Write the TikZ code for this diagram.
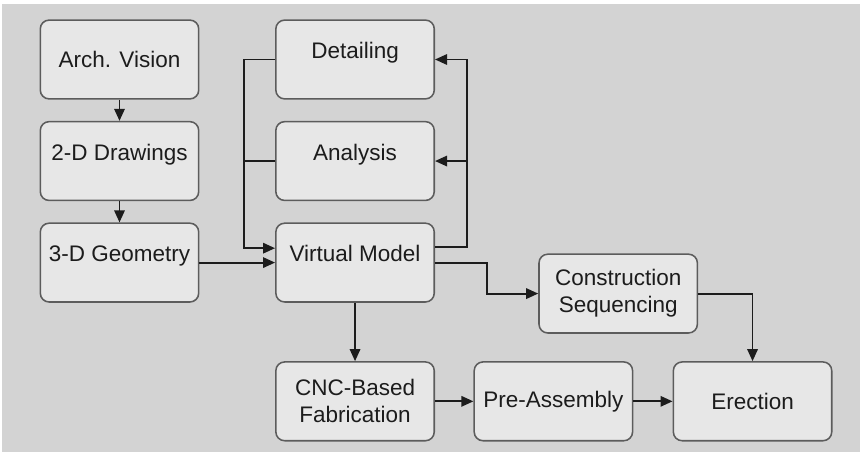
\documentclass[tikz,border=0pt]{standalone}
\usepackage{fontspec}
\setmainfont{Liberation Sans}
\usepackage{xcolor}
\usetikzlibrary{arrows.meta,positioning,calc}

\definecolor{bggray}{HTML}{D3D3D3}
\definecolor{boxfill}{HTML}{E7E7E7}
\definecolor{boxline}{HTML}{5C5C5C}
\definecolor{inkgray}{HTML}{1C1C1C}

\begin{document}
\begin{tikzpicture}[
node distance=5.3mm and 18.9mm,
box/.style={draw=boxline, line width=1.1pt, rounded corners=2.2mm, fill=boxfill, text=inkgray,
  minimum width=39.6mm, minimum height=19.7mm, align=center,
  font=\fontsize{16}{19.2}\selectfont},
upper/.style={text height=4mm, text depth=4.5mm},
arr/.style={-{Triangle[length=3mm,width=2.6mm]}, line width=1.3pt, draw=inkgray},
ln/.style={line width=1.3pt, draw=inkgray}
]
% background
\fill[white] (-2.9875,1.4875) rectangle (18.5125,-9.8125);
\fill[bggray] (-2.9375,1.3875) rectangle (18.5125,-9.8125);

\node[box] (arch) {Arch. Vision};
\node[box, upper, below=of arch] (drawings) {2-D Drawings};
\node[box, upper, below=of drawings] (geom) {3-D Geometry};
\node[box, upper, right=of arch] (detail) {Detailing};
\node[box, upper, below=of detail] (anal) {Analysis};
\node[box, upper, below=of anal] (virt) {Virtual Model};
\node[box, below=14.6mm of virt] (cnc) {CNC-Based\\Fabrication};
\node[box, right=9.6mm of cnc] (pre) {Pre-Assembly};
\node[box, right=9.8mm of pre] (erect) {Erection};
\node[box, right=25.8mm of virt, yshift=-7.75mm] (cseq) {Construction\\Sequencing};

\coordinate (lbus) at ([xshift=-7.75mm, yshift=3.6mm]virt.west);
\coordinate (rbus) at ([xshift=8mm, yshift=3.8mm]virt.east);

\draw[arr] (arch) -- (drawings);
\draw[arr] (drawings) -- (geom);
\draw[arr] (geom) -- (virt);
\draw[arr] (detail.west) -| (lbus) -- ([yshift=3.6mm]virt.west);
\draw[ln] (anal.west) -- (lbus |- anal.west);
\draw[arr] ([yshift=3.8mm]virt.east) -- (rbus) |- (detail.east);
\draw[arr] (rbus |- anal.east) -- (anal.east);
\draw[arr] (virt.east) -- ++(13mm,0) |- (cseq.west);
\draw[arr] (cseq.east) -| (erect.north);
\draw[arr] (virt) -- (cnc);
\draw[arr] (cnc) -- (pre);
\draw[arr] (pre) -- (erect);
\end{tikzpicture}
\end{document}
